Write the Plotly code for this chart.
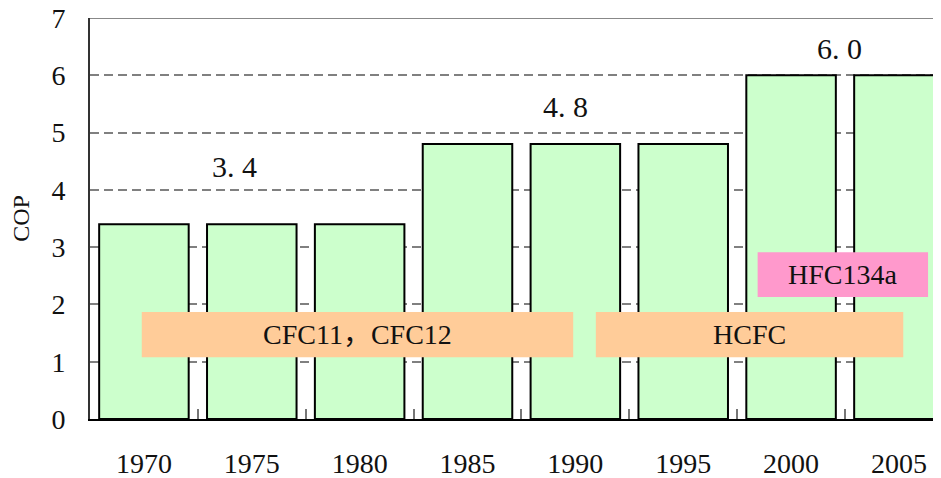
import plotly.graph_objects as go

years = ["1970", "1975", "1980", "1985", "1990", "1995", "2000", "2005"]
cop = [3.4, 3.4, 3.4, 4.8, 4.8, 4.8, 6.0, 6.0]

# value labels: (value, category position, label height)
value_labels = [3.4, 4.8, 6.0]
value_label_x = [0.84, 3.91, 6.45]
value_label_y = [4.4, 5.45, 6.47]

# refrigerant bands
ref_names = ["CFC11，CFC12", "HCFC", "HFC134a"]
ref_x0 = [-0.02, 4.19, 5.69]
ref_x1 = [3.98, 7.04, 7.27]
ref_y0 = [1.08, 1.08, 2.13]
ref_y1 = [1.87, 1.87, 2.91]
ref_colors = ["#FFCC99", "#FFCC99", "#FF99CC"]

FONT = "Liberation Serif, Noto Sans CJK SC"

fig = go.Figure()
fig.add_trace(go.Bar(
    x=years, y=cop,
    marker=dict(color="#CCFFCC", line=dict(color="black", width=2)),
    hoverinfo="x+y",
))

shapes = []
annotations = []
for name, x0, x1, y0, y1, c in zip(ref_names, ref_x0, ref_x1, ref_y0, ref_y1, ref_colors):
    shapes.append(dict(type="rect", xref="x", yref="y", x0=x0, x1=x1, y0=y0, y1=y1,
                       fillcolor=c, line=dict(width=0), layer="above"))
    annotations.append(dict(x=(x0 + x1) / 2, y=(y0 + y1) / 2, xref="x", yref="y",
                            text=name, showarrow=False,
                            font=dict(family=FONT, size=28, color="#111111")))

for v, lx, ly in zip(value_labels, value_label_x, value_label_y):
    annotations.append(dict(x=lx, y=ly, xref="x", yref="y",
                            text=f"{v:.1f}".replace(".", ". "), showarrow=False,
                            font=dict(family=FONT, size=30, color="#111111")))

# top border line at 7
shapes.append(dict(type="line", xref="paper", yref="y", x0=0, x1=1, y0=7, y1=7,
                   line=dict(color="#888888", width=2), layer="below"))

# page body has an 8px default margin, so the figure is sized/offset to compensate
fig.update_layout(
    width=933, height=470,
    margin=dict(l=82, r=0, t=10, b=59),
    plot_bgcolor="white", paper_bgcolor="white",
    bargap=0.17,
    showlegend=False,
    shapes=shapes,
    annotations=annotations,
    font=dict(family=FONT, size=28, color="#111111"),
    xaxis=dict(
        type="category", categoryorder="array", categoryarray=years,
        range=[-0.5, 7.39],
        automargin=False,
        showline=True, linecolor="black", linewidth=2,
        showgrid=False,
        ticks="inside", ticklen=10, tickwidth=1.5, tickcolor="#777777",
        tickson="boundaries",
        tickfont=dict(family=FONT, size=28, color="#111111"),
        ticklabelstandoff=18,
        ticklabeloverflow="allow",
    ),
    yaxis=dict(
        range=[0, 7], tickvals=[0, 1, 2, 3, 4, 5, 6, 7],
        automargin=False,
        showline=True, linecolor="#333333", linewidth=2,
        showgrid=True, gridcolor="#808080", gridwidth=1.5, griddash="9px,5px",
        zeroline=False,
        ticks="",
        tickfont=dict(family=FONT, size=28, color="#111111"),
        ticklabelstandoff=17,
        ticklabeloverflow="allow",
        title=dict(text="COP", font=dict(family=FONT, size=24, color="#111111"), standoff=15),
    ),
)

fig.write_html("out.html")
